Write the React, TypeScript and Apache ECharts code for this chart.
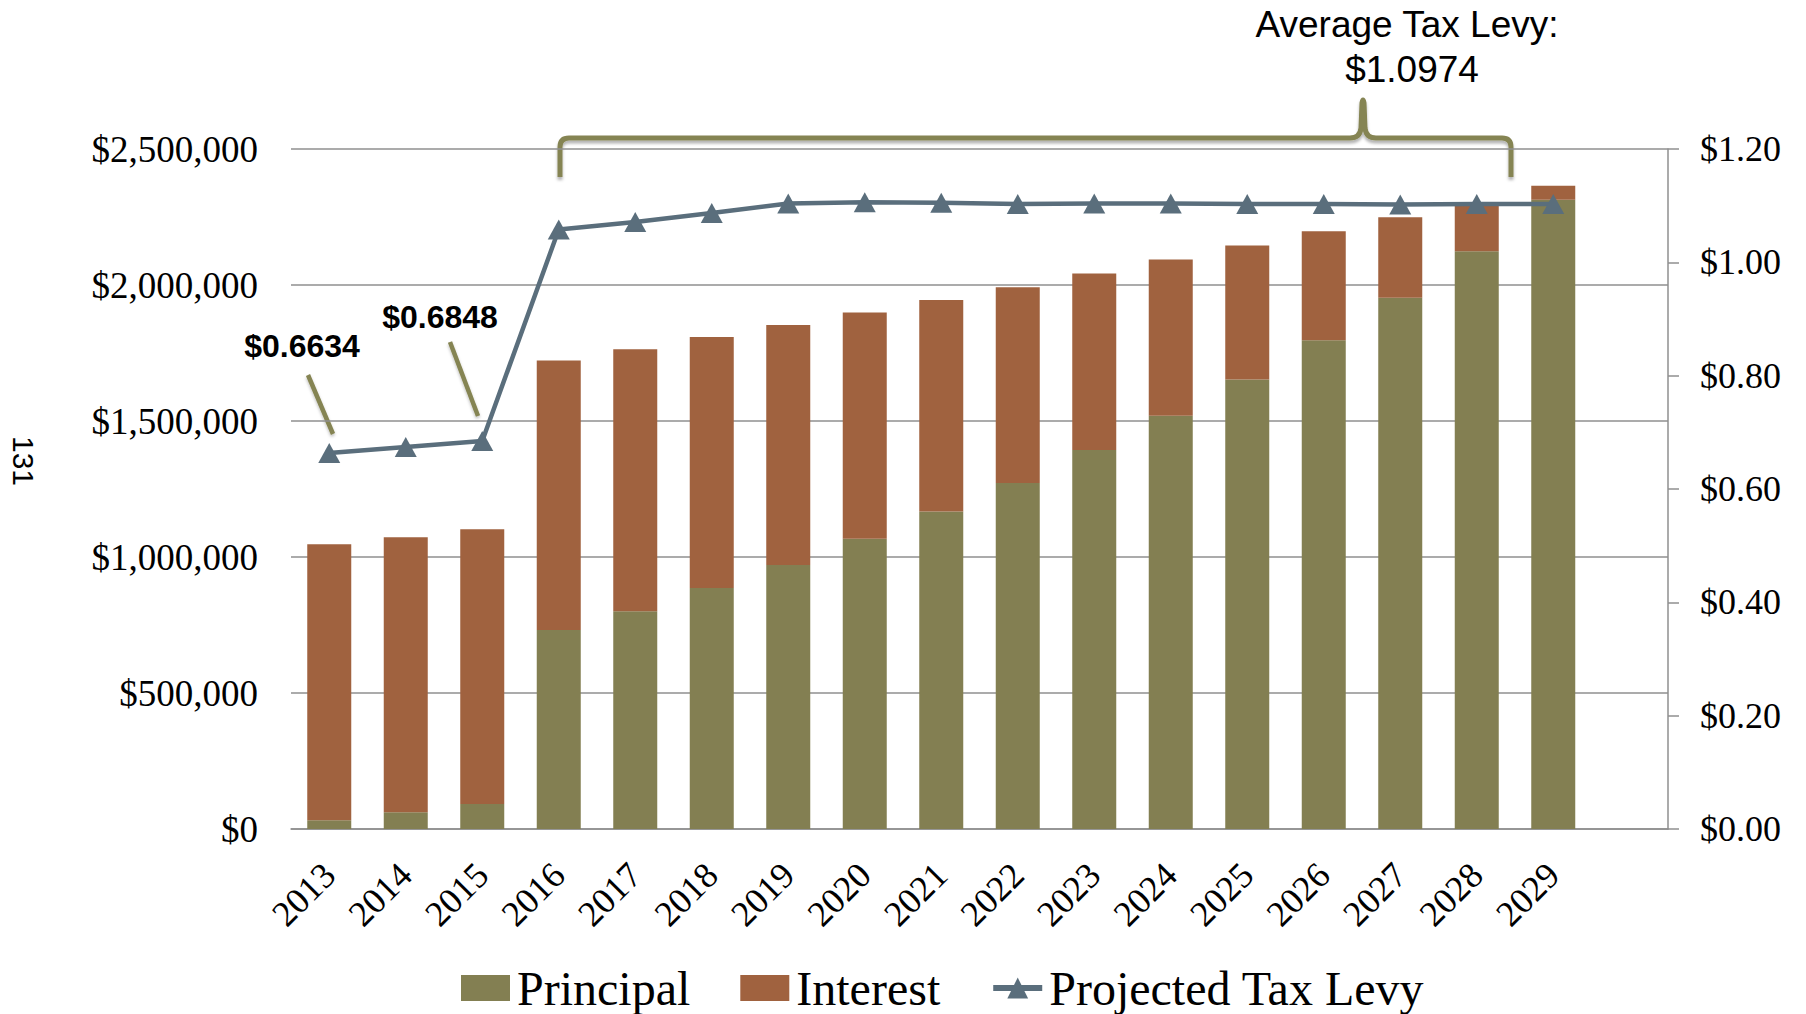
import React, { useEffect, useRef } from "react";
import * as echarts from "echarts";

const years = ["2013", "2014", "2015", "2016", "2017", "2018", "2019", "2020", "2021", "2022", "2023", "2024", "2025", "2026", "2027", "2028", "2029"];
const principal = [32000, 62000, 92000, 732000, 801000, 886000, 971000, 1067000, 1167000, 1272000, 1393000, 1519000, 1653000, 1797000, 1953000, 2124000, 2313000];
const interest = [1015000, 1011000, 1010000, 990000, 963000, 923000, 882000, 832000, 778000, 720000, 649000, 575000, 492000, 401000, 296000, 176000, 52000];
const taxLevy = [0.6634, 0.6741, 0.6848, 1.058, 1.071, 1.087, 1.104, 1.106, 1.105, 1.103, 1.104, 1.104, 1.103, 1.103, 1.102, 1.103, 1.103];
const leftTicks = { min: 0, max: 2500000, interval: 500000 };
const rightTicks = { min: 0, max: 1.2, interval: 0.2 };
const calloutLabels = ["$0.6634", "$0.6848"];
const averageLabel = ["Average Tax Levy:", "$1.0974"];

const OLIVE = "#837f52";
const RUST = "#a0623f";
const SLATE = "#5a6e7c";
const BRACE = "#858452";
const GRID = "#8f8f8f";

const bracePath =
  "M560,177 L560,147 Q560,138 569,138 L1350,138 Q1360,138 1361,128 L1362,103 Q1363,97 1364,103 L1365,128 Q1366,138 1376,138 L1502,138 Q1511,138 1511,147 L1511,177";
echarts.graphic.registerShape("brace", echarts.graphic.extendPath(bracePath, {}) as any);

export default function App() {
  const ref = useRef<HTMLDivElement>(null);
  useEffect(() => {
    if (!ref.current) return;
    const chart = echarts.init(ref.current, null, { renderer: "svg" });
    const serif = "Liberation Serif, Times New Roman, serif";
    const sans = "Liberation Sans, Arial, sans-serif";
    chart.setOption({
      animation: false,
      backgroundColor: "#ffffff",
      grid: { left: 291, right: 138, top: 149, bottom: 185, containLabel: false },
      legend: {
        left: 456,
        top: 959,
        itemWidth: 49,
        itemHeight: 26,
        itemGap: 50,
        textStyle: { fontFamily: serif, fontSize: 48, color: "#000", padding: [0, 0, 0, 2] },
        data: [
          { name: "Principal", icon: "rect" },
          { name: "Interest", icon: "rect" },
          { name: "Projected Tax Levy", lineStyle: { width: 6, color: SLATE } },
        ],
      },
      xAxis: {
        type: "category",
        data: [...years, ""],
        axisLine: { show: true, lineStyle: { color: GRID, width: 1.5 } },
        axisTick: { show: false },
        axisLabel: { rotate: 45, margin: 40, fontFamily: serif, fontSize: 36, color: "#000", interval: 0 },
      },
      yAxis: [
        {
          type: "value",
          ...leftTicks,
          axisLine: { show: false },
          axisTick: { show: false },
          splitLine: { show: true, lineStyle: { color: GRID, width: 1.5 } },
          axisLabel: {
            margin: 33,
            fontFamily: serif,
            fontSize: 37,
            color: "#000",
            formatter: (v: number) => "$" + v.toLocaleString("en-US"),
          },
        },
        {
          type: "value",
          position: "right",
          ...rightTicks,
          axisLine: { show: true, lineStyle: { color: GRID, width: 1.5 } },
          axisTick: { show: true, length: 11, lineStyle: { color: GRID, width: 1.5 } },
          splitLine: { show: false },
          axisLabel: {
            margin: 32,
            fontFamily: serif,
            fontSize: 36,
            color: "#000",
            formatter: (v: number) => "$" + v.toFixed(2),
          },
        },
      ],
      series: [
        {
          name: "Principal",
          type: "bar",
          stack: "debt",
          barWidth: 44,
          data: principal,
          itemStyle: { color: OLIVE },
        },
        {
          name: "Interest",
          type: "bar",
          stack: "debt",
          barWidth: 44,
          data: interest,
          itemStyle: { color: RUST },
        },
        {
          name: "Projected Tax Levy",
          type: "line",
          yAxisIndex: 1,
          data: taxLevy,
          symbol: "triangle",
          symbolSize: [22, 20],
          lineStyle: { color: SLATE, width: 4.5 },
          itemStyle: { color: SLATE },
          z: 5,
        },
      ],
      graphic: [
        {
          type: "text",
          x: 23,
          y: 461,
          rotation: -Math.PI / 2,
          style: { text: "131", fontFamily: sans, fontSize: 30, fill: "#000", align: "center", verticalAlign: "middle" },
        },
        {
          type: "text",
          x: 302,
          y: 346,
          style: { text: calloutLabels[0], fontFamily: sans, fontWeight: "bold", fontSize: 32, fill: "#000", align: "center", verticalAlign: "middle" },
        },
        {
          type: "text",
          x: 440,
          y: 317,
          style: { text: calloutLabels[1], fontFamily: sans, fontWeight: "bold", fontSize: 32, fill: "#000", align: "center", verticalAlign: "middle" },
        },
        {
          type: "line",
          shape: { x1: 308, y1: 375, x2: 333, y2: 434 },
          style: { stroke: BRACE, lineWidth: 4.5, shadowColor: "rgba(0,0,0,0.25)", shadowBlur: 3, shadowOffsetY: 2 },
        },
        {
          type: "line",
          shape: { x1: 450, y1: 342, x2: 478, y2: 416 },
          style: { stroke: BRACE, lineWidth: 4.5, shadowColor: "rgba(0,0,0,0.25)", shadowBlur: 3, shadowOffsetY: 2 },
        },
        {
          type: "brace",
          x: 0,
          y: 0,
          style: { fill: "none", stroke: BRACE, lineWidth: 5, shadowColor: "rgba(0,0,0,0.3)", shadowBlur: 3, shadowOffsetY: 3 },
        },
        {
          type: "text",
          x: 1407,
          y: 24,
          style: { text: averageLabel[0], fontFamily: sans, fontSize: 37, fill: "#000", align: "center", verticalAlign: "middle" },
        },
        {
          type: "text",
          x: 1412,
          y: 69,
          style: { text: averageLabel[1], fontFamily: sans, fontSize: 37, fill: "#000", align: "center", verticalAlign: "middle" },
        },
      ],
    });
    return () => chart.dispose();
  }, []);
  return <div ref={ref} style={{ position: "fixed", left: 0, top: 0, width: 1806, height: 1014 }} />;
}
